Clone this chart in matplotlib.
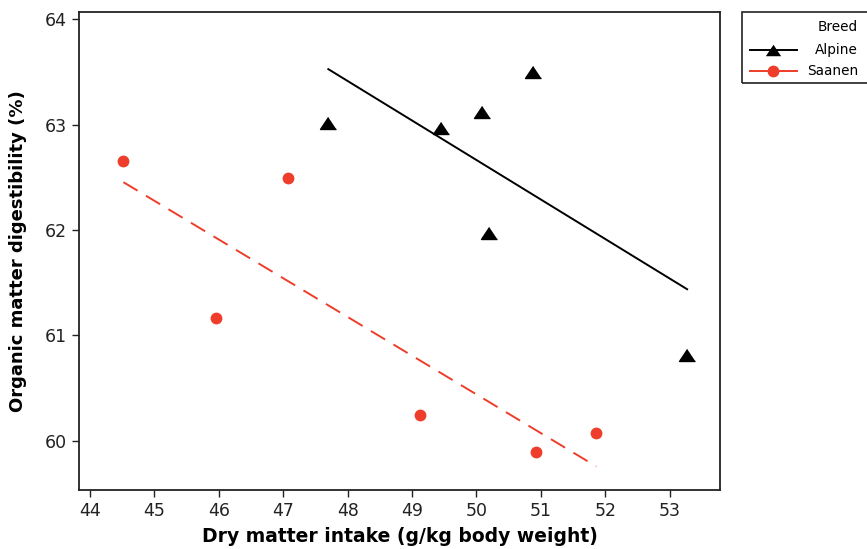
import numpy as np
import matplotlib
matplotlib.use("Agg")
import matplotlib.pyplot as plt
from matplotlib.lines import Line2D
from matplotlib.patches import Rectangle

# data
alpine_x = [47.70, 49.45, 50.09, 50.19, 50.87, 53.27]
alpine_y = [63.02, 62.97, 63.12, 61.975, 63.50, 60.81]
saanen_x = [44.52, 45.95, 47.08, 49.13, 50.92, 51.86]
saanen_y = [62.654, 61.16, 62.49, 60.24, 59.89, 60.07]
breeds = ["Alpine", "Saanen"]
xticks = list(range(44, 54))
yticks = [60, 61, 62, 63, 64]

red = "#EE3D2A"
tri = [(0, 0.75), (-1, -0.75), (1, -0.75)]

fig = plt.figure(figsize=(8.67, 5.49), dpi=100)
ax = fig.add_axes([79 / 867, 59 / 549, 641 / 867, 478 / 549])

# regression lines
for xs, ys, col, ls in [(alpine_x, alpine_y, "black", "-"),
                        (saanen_x, saanen_y, red, (0, (8.5, 5)))]:
    k, b = np.polyfit(xs, ys, 1)
    xx = np.array([min(xs), max(xs)])
    ax.plot(xx, k * xx + b, color=col, linestyle=ls, lw=1.4, zorder=2)

ax.plot(alpine_x, alpine_y, linestyle="none", marker=tri, ms=11.5,
        color="black", zorder=3)
ax.plot(saanen_x, saanen_y, linestyle="none", marker="o", ms=8.5,
        color=red, markeredgewidth=0, zorder=3)

ax.set_xlim(43.83, 53.78)
ax.set_ylim(59.53, 64.07)
ax.set_xticks(xticks)
ax.set_yticks(yticks)
ax.tick_params(direction="out", length=5, width=1, labelsize=12.5,
               colors="#222222")
for s in ax.spines.values():
    s.set_linewidth(1.3)
    s.set_color("#222222")

ax.set_xlabel("Dry matter intake (g/kg body weight)", fontsize=13.5,
              fontweight="bold", labelpad=5)
ax.set_ylabel("Organic matter digestibility (%)", fontsize=13,
              fontweight="bold", labelpad=13)

# legend box, drawn by hand so the texts sit right aligned
W, H = 867, 549
fig.patches.append(Rectangle((742 / W, 1 - 83 / H), 140 / W, 71 / H,
                             transform=fig.transFigure, fill=False,
                             edgecolor="#222222", lw=1.2))
fig.text(858 / W, 1 - 27 / H, "Breed", ha="right", va="center", fontsize=9.8)
for i, (name, col, mk, ms) in enumerate([(breeds[0], "black", tri, 11),
                                          (breeds[1], red, "o", 8.5)]):
    yy = 1 - (50 + 21 * i) / H
    fig.add_artist(Line2D([750 / W, 797 / W], [yy, yy], color=col, lw=1.4,
                          transform=fig.transFigure))
    fig.add_artist(Line2D([773 / W], [yy], color=col, marker=mk, ms=ms,
                          markeredgewidth=0, transform=fig.transFigure))
    fig.text(858 / W, yy, name, ha="right", va="center", fontsize=9.8)

fig.savefig("out.png", dpi=100)
